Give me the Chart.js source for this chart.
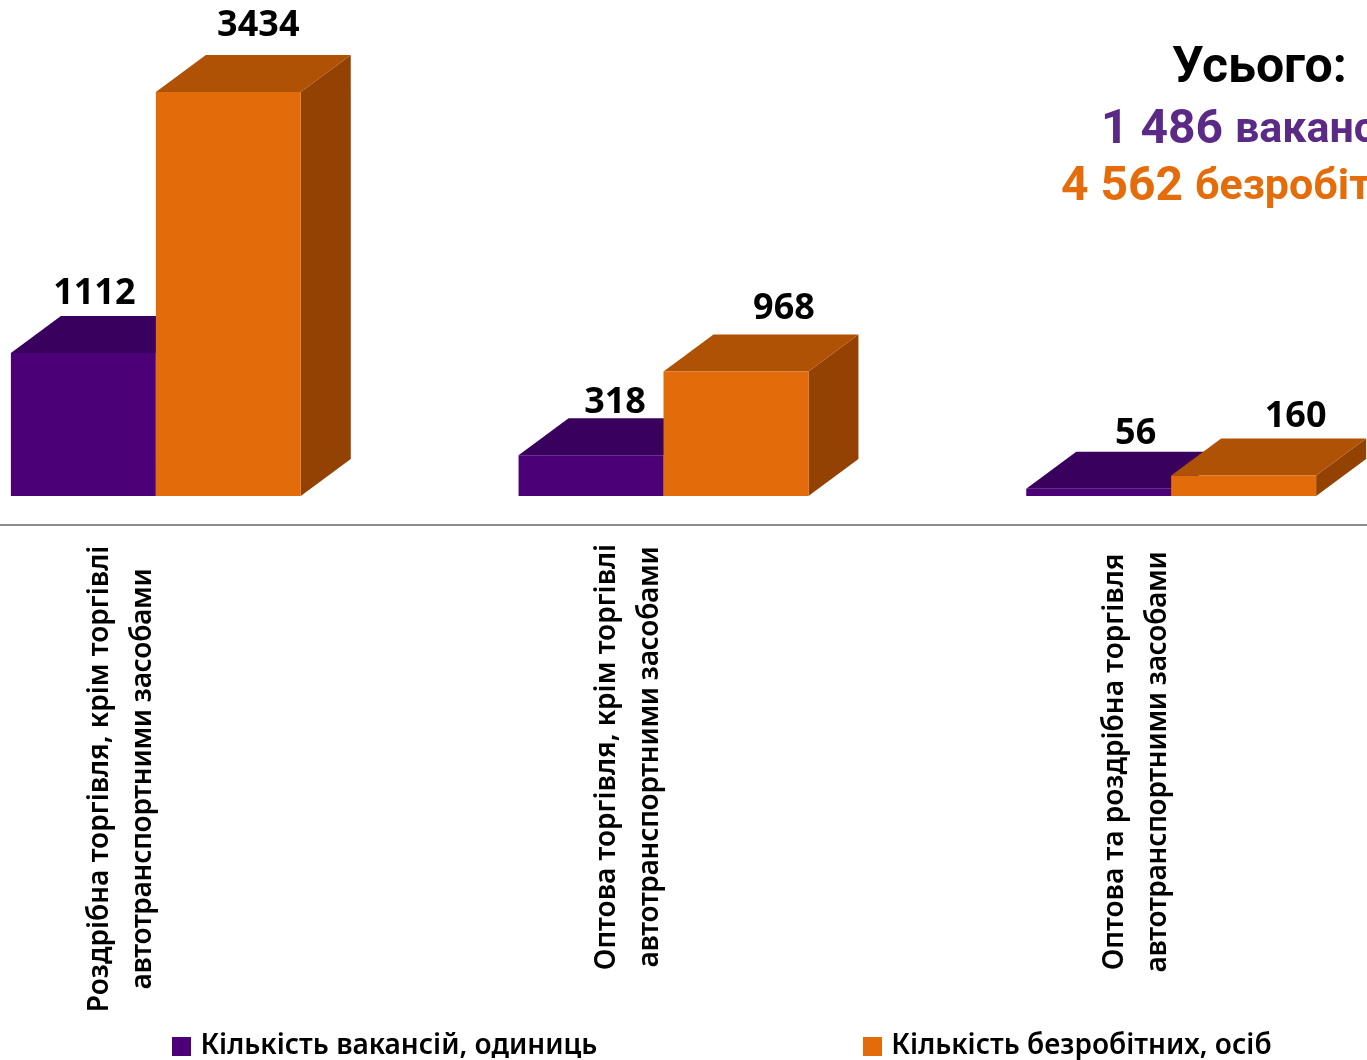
<!DOCTYPE html>
<html>
<head>
<meta charset="utf-8">
<script src="https://cdn.jsdelivr.net/npm/chart.js@4"></script>
<style>
  html, body { margin: 0; padding: 0; background: #fff; overflow: hidden; width: 1367px; height: 1060px; }
  #chartBox { position: absolute; left: -300px; top: 0; }
</style>
</head>
<body>
<div id="chartBox"><canvas id="tradeChart" width="2049" height="1070"></canvas></div>
<script>
const categories = [
  ["Роздрібна торгівля, крім торгівлі", "автотранспортними засобами"],
  ["Оптова торгівля, крім торгівлі", "автотранспортними засобами"],
  ["Оптова та роздрібна торгівля", "автотранспортними засобами"]
];
const vacancies = [1112, 318, 56];
const unemployed = [3434, 968, 160];
const seriesNames = ["Кількість вакансій, одиниць", "Кількість безробітних, осіб"];
const totalsTitle = "Усього:";
const totalVacancies = ["1 486", "вакансій"];
const totalUnemployed = ["4 562", "безробітних"];

const FONT = '"Noto Sans", sans-serif';
const PAGE_LEFT = 300; // canvas starts this far left of the page, chart runs past both edges
const DEPTH_X = 50, DEPTH_Y = 37;
const faces = [
  { front: "#4b0078", top: "#39005e", side: "#2f004c" },
  { front: "#e36c0a", top: "#af5205", side: "#934204" }
];
// nudges for the value labels and category labels, as placed in the source chart
const valueNudge = [
  [[11, -22], [30, -29]],
  [[24, -15], [48, -26]],
  [[37, -18], [52, -22]]
];
const catCentreY = [779, 757, 762];

// legend swatch as an image, so the gap to the text can be tighter than the default
function swatch(color) {
  const c = document.createElement("canvas");
  c.width = 19; c.height = 19;
  const g = c.getContext("2d");
  g.fillStyle = color;
  g.fillRect(0, 0, 19, 19);
  return c;
}

const box3d = {
  id: "box3d",
  beforeDatasetDraw() { return false; },
  afterDatasetsDraw(chart) {
    const ctx = chart.ctx, area = chart.chartArea;
    [0, 1].forEach(ds => {
      const meta = chart.getDatasetMeta(ds);
      meta.data.forEach(bar => {
        const l = bar.x - bar.width / 2, r = bar.x + bar.width / 2;
        const t = Math.max(bar.y, area.top), b = bar.base;
        ctx.fillStyle = faces[ds].side;
        ctx.beginPath();
        ctx.moveTo(r, t); ctx.lineTo(r + DEPTH_X, t - DEPTH_Y);
        ctx.lineTo(r + DEPTH_X, b - DEPTH_Y); ctx.lineTo(r, b);
        ctx.closePath(); ctx.fill();
        ctx.fillStyle = faces[ds].top;
        ctx.beginPath();
        ctx.moveTo(l, t); ctx.lineTo(l + DEPTH_X, t - DEPTH_Y);
        ctx.lineTo(r + DEPTH_X, t - DEPTH_Y); ctx.lineTo(r, t);
        ctx.closePath(); ctx.fill();
        ctx.save();
        ctx.beginPath();
        ctx.rect(area.left, area.top, area.right - area.left, area.bottom - area.top);
        ctx.clip();
        bar.draw(ctx);
        ctx.restore();
      });
    });
  },
  afterDraw(chart) {
    const ctx = chart.ctx, area = chart.chartArea, x = chart.scales.x;
    ctx.save();
    ctx.textBaseline = "middle";
    ctx.textAlign = "center";
    ctx.fillStyle = "#000";
    ctx.font = "700 36px " + FONT;
    // value labels
    [0, 1].forEach(ds => {
      chart.getDatasetMeta(ds).data.forEach((bar, i) => {
        const t = Math.max(bar.y, area.top);
        const n = valueNudge[i][ds];
        ctx.fillText(String(chart.data.datasets[ds].data[i]), bar.x + n[0], t - DEPTH_Y + n[1]);
      });
    });
    // category labels, two centred rotated lines
    ctx.font = "600 28px " + FONT;
    categories.forEach((lines, i) => {
      const cx = x.getPixelForTick(i) - 35;
      lines.forEach((line, k) => {
        ctx.save();
        ctx.letterSpacing = k === 0 ? "0px" : "-0.3px";
        ctx.translate(cx + (k === 0 ? -21 : 22), catCentreY[i]);
        ctx.rotate(-Math.PI / 2);
        ctx.fillText(line, 0, 0);
        ctx.restore();
      });
    });
    // totals block, runs off the right edge like the source
    ctx.textAlign = "left";
    ctx.font = '700 50px Roboto, sans-serif';
    ctx.fillText(totalsTitle, PAGE_LEFT + 1172, 69);
    ctx.font = '700 48px Roboto, sans-serif';
    ctx.fillStyle = "#5b2a86";
    ctx.fillText(totalVacancies[0], PAGE_LEFT + 1101, 131);
    ctx.fillStyle = "#e46c0a";
    ctx.fillText(totalUnemployed[0], PAGE_LEFT + 1061, 188);
    ctx.font = '700 43px Roboto, sans-serif';
    ctx.fillStyle = "#5b2a86";
    ctx.fillText(totalVacancies[1], PAGE_LEFT + 1235, 131);
    ctx.fillStyle = "#e46c0a";
    ctx.fillText(totalUnemployed[1], PAGE_LEFT + 1195, 188);
    ctx.restore();
  }
};

new Chart(document.getElementById("tradeChart"), {
  type: "bar",
  data: {
    labels: categories,
    datasets: [
      { label: seriesNames[0], data: vacancies, backgroundColor: faces[0].front },
      { label: seriesNames[1], data: unemployed, backgroundColor: faces[1].front }
    ]
  },
  options: {
    responsive: false,
    animation: false,
    layout: { padding: { top: 92 } },
    categoryPercentage: 0.571,
    barPercentage: 1,
    scales: {
      x: {
        grid: { display: false },
        border: { display: true, color: "#8c8c8c", width: 2 },
        ticks: { display: false },
        afterFit(scale) { scale.height = 236; }
      },
      // max sits below the tallest value: that bar is cut at the axis top in the source
      y: {
        min: -225, max: 3142,
        grid: { display: false }, border: { display: false }, ticks: { display: false },
        afterFit(scale) { scale.width = 202; }
      },
      // empty axis, only keeps the plot off the right side of the wide canvas
      y2: {
        position: "right",
        grid: { display: false }, border: { display: false }, ticks: { display: false },
        afterFit(scale) { scale.width = 324; }
      }
    },
    plugins: {
      tooltip: { enabled: false },
      legend: {
        position: "bottom",
        labels: {
          color: "#000",
          usePointStyle: true,
          boxWidth: 9,
          boxHeight: 19,
          padding: 271,
          font: { family: FONT, size: 28, weight: "600" },
          generateLabels(chart) {
            return Chart.defaults.plugins.legend.labels.generateLabels(chart)
              .map((item, i) => ({ ...item, pointStyle: swatch(faces[i].front) }));
          }
        }
      }
    }
  },
  plugins: [box3d]
});
</script>
</body>
</html>
